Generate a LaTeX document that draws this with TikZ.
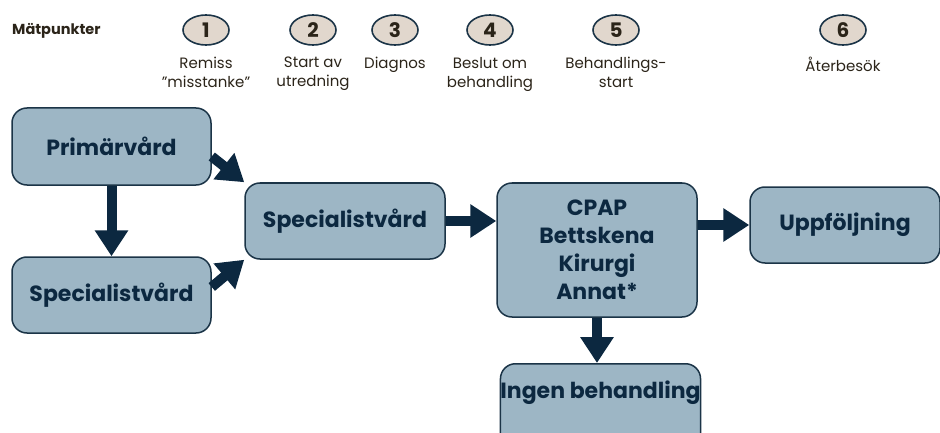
\documentclass[tikz,border=0pt]{standalone}
\usepackage{fontspec}
\setmainfont{Poppins}
\usepackage{xcolor}
\usetikzlibrary{arrows.meta,positioning,calc,shapes.geometric}
\definecolor{navy}{HTML}{0C2840}
\definecolor{boxfill}{HTML}{9DB6C5}
\definecolor{boxline}{HTML}{1B3447}
\definecolor{beige}{HTML}{E1D7CD}
\definecolor{ink}{HTML}{2B2419}

\begin{document}
\begin{tikzpicture}[x=1pt,y=-1pt, every node/.style={text=ink},
box/.style={draw=boxline,line width=1.5pt,fill=boxfill,rounded corners=15pt,minimum width=199pt,minimum height=77pt,inner sep=0pt,align=center,text=navy,font=\bfseries\fontsize{22}{28}\selectfont},
ptmark/.style={draw=boxline,line width=1.6pt,fill=beige,ellipse,minimum width=46pt,minimum height=30pt,inner sep=0pt,font=\bfseries\fontsize{20}{20}\selectfont},
ptlabel/.style={align=center,inner sep=0pt,font=\fontsize{15}{19}\selectfont},
flow/.style={navy,line width=10pt,-{Triangle[width=32pt,length=26pt]}}]
\useasboundingbox (0,0) rectangle (940,433);
\clip (0,0) rectangle (940,433);
\node[anchor=west,inner sep=0pt,font=\bfseries\fontsize{14.5}{16}\selectfont] (mp) at (12,31) {Mätpunkter};
\node[ptmark] (m1) at (206,30) {1};
\node[ptmark] (m2) at (313,30) {2};
\node[ptmark] (m3) at (395,30) {3};
\node[ptmark] (m4) at (490,30) {4};
\node[ptmark] (m5) at (616,30) {5};
\node[ptmark] (m6) at (843,30) {6};
\node[ptlabel,below=11pt of m1] (l1) {Remiss\\”misstanke”};
\node[ptlabel,below=11pt of m2] (l2) {Start av\\utredning};
\node[ptlabel,below=11pt of m3] (l3) {Diagnos};
\node[ptlabel,below=11pt of m4] (l4) {Beslut om\\behandling};
\node[ptlabel,below=11pt of m5] (l5) {Behandlings-\\start};
\node[ptlabel,below=11pt of m6] (l6) {Återbesök};
% vardkedja
\node[box] (prim) at (111.5,146.5) {Primärvård};
\node[box,minimum height=76pt] (spec1) at (111.5,295) {Specialistvård};
\node[box,minimum width=200pt,minimum height=76pt] (spec2) at (345,221) {Specialistvård};
\node[box,minimum width=200pt,minimum height=134pt] (treat) at (597,250) {CPAP\\Bettskena\\Kirurgi\\Annat*};
\node[box,minimum width=190pt,minimum height=76pt] (follow) at (845,225) {Uppföljning};
\node[box,anchor=north,text height=35pt,text depth=90pt] (none) at (600.5,363) {Ingen behandling};
\draw[flow] (prim) -- (spec1);
\draw[flow] ($(prim.east)+(0,10)$) -- (spec2.north west);
\draw[flow] ($(spec1.east)+(0,-8)$) -- (spec2.south west);
\draw[flow] (spec2.east) -- (spec2.east -| treat.west);
\draw[flow] (treat.east |- follow.west) -- (follow.west);
\draw[flow] (treat.south) -- (treat.south |- none.north);
\end{tikzpicture}
\end{document}
